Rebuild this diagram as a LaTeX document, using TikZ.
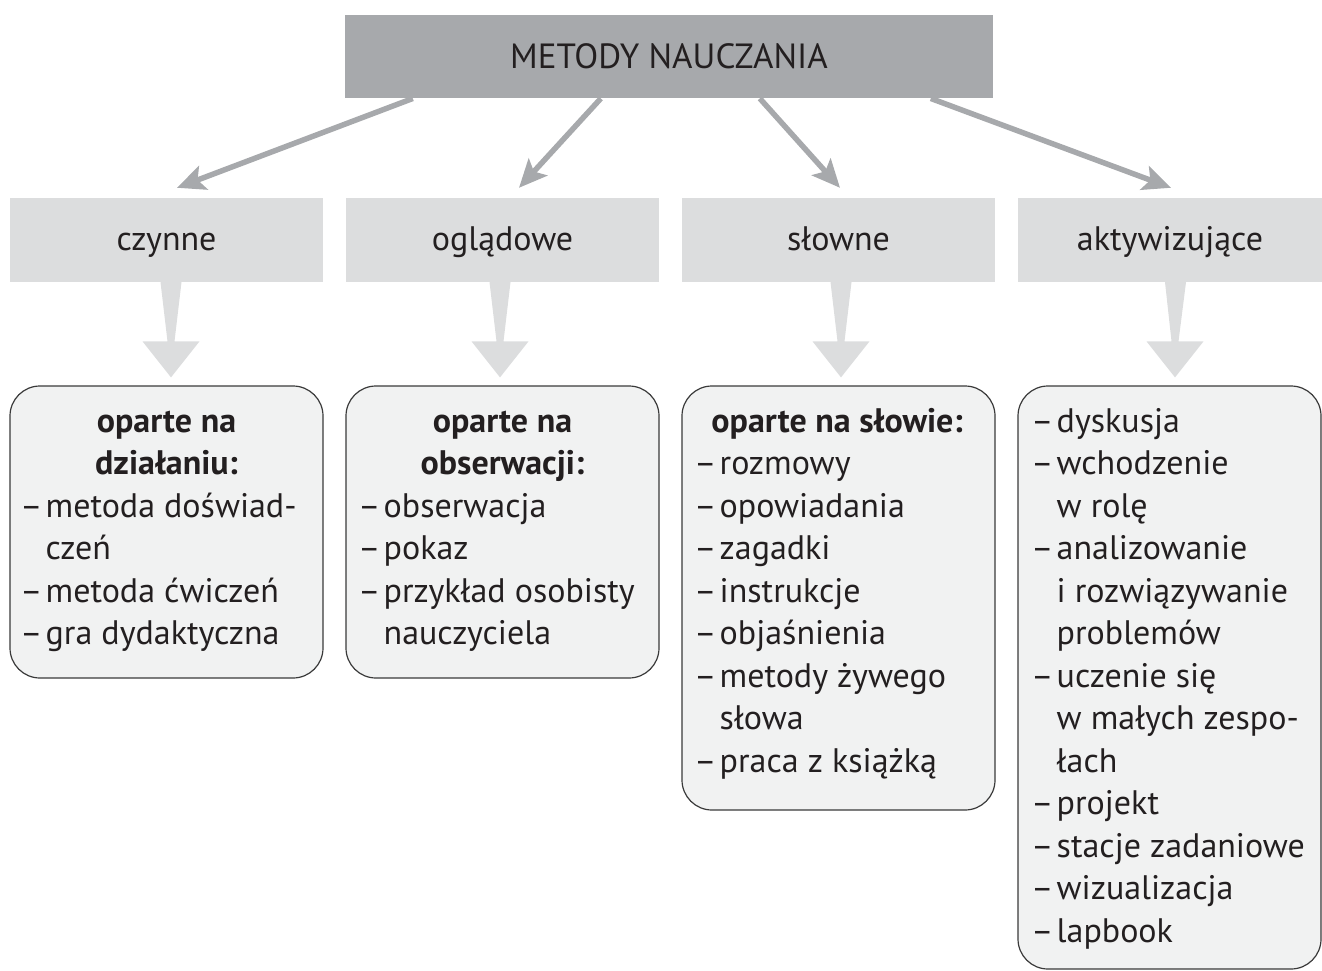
\documentclass[tikz,border=0pt]{standalone}
\usepackage{fontspec}
\setmainfont{PT Sans}
\usetikzlibrary{arrows.meta}
\definecolor{topgray}{HTML}{A7A9AC}
\definecolor{catgray}{HTML}{DCDDDE}
\definecolor{boxfill}{HTML}{F1F2F2}
\definecolor{txt}{HTML}{231F20}
\definecolor{edge}{HTML}{3A3A3A}
\newcommand\dsh{\makebox[25.5pt][l]{–}}
\newcommand\blockarrow[3]{%
  \fill[catgray] ([xshift=#3-10.5pt]#1.south) -- ([xshift=#3+10.5pt]#1.south)
    -- ([xshift=#3+3.5pt,yshift=44pt]#2.north) -- ([xshift=#3+28.5pt,yshift=44pt]#2.north)
    -- ([xshift=#3,yshift=8pt]#2.north) -- ([xshift=#3-28.5pt,yshift=44pt]#2.north)
    -- ([xshift=#3-3.5pt,yshift=44pt]#2.north) -- cycle;}
\begin{document}
\begin{tikzpicture}[x=1pt,y=-1pt,
  every node/.style={text=txt,font=\fontsize{34}{42.5}\selectfont},
  topbox/.style={fill=topgray,minimum width=648pt,minimum height=83.5pt,inner sep=0pt,text height=28pt,text depth=4pt,font=\fontsize{35}{42.5}\selectfont},
  catbox/.style={fill=catgray,minimum width=313pt,minimum height=84pt,inner sep=0pt,text height=26pt,text depth=6pt},
  listbox/.style={fill=boxfill,draw=edge,line width=1.2pt,rounded corners=30pt,inner sep=0pt},
  head/.style={anchor=base,inner sep=0pt,font=\fontsize{34}{42.5}\selectfont\bfseries},
  li/.style={anchor=base west,inner sep=0pt},
  thin/.style={draw=topgray,line width=5.5pt,-{Stealth[length=28pt,width=25pt,inset=6pt]}}
]
\useasboundingbox (0,0) rectangle (1322,971);
% top box
\node[topbox] (top) at (669,56.5) {METODY NAUCZANIA};
% categories
\node[catbox] (c1) at (166.5,240) {czynne};
\node[catbox] (c2) at (502.5,240) {oglądowe};
\node[catbox] (c3) at (838.5,240) {słowne};
\node[catbox,minimum width=304pt] (c4) at (1170,240) {aktywizujące};
% list boxes
\node[listbox,minimum width=313pt,minimum height=292pt] (b1) at (166.5,532) {};
\node[listbox,minimum width=313pt,minimum height=292pt] (b2) at (502.5,532) {};
\node[listbox,minimum width=313pt,minimum height=424pt] (b3) at (838.5,598) {};
\node[listbox,minimum width=303pt,minimum height=583pt] (b4) at (1169.5,677.5) {};
% thin arrows
\draw[thin] ([xshift=68pt]top.south west) -- ([xshift=10.5pt,yshift=10pt]c1.north);
\draw[thin] ([xshift=256pt]top.south west) -- ([xshift=16.5pt,yshift=10pt]c2.north);
\draw[thin] ([xshift=415pt]top.south west) -- ([xshift=1.5pt,yshift=10pt]c3.north);
\draw[thin] ([xshift=586pt]top.south west) -- ([xshift=1pt,yshift=10pt]c4.north);
% block arrows
\blockarrow{c1}{b1}{4.5pt}
\blockarrow{c2}{b2}{-2.5pt}
\blockarrow{c3}{b3}{2.5pt}
\blockarrow{c4}{b4}{5.5pt}
% box 1
\node[head] (b1h1) at (166.5,432) {oparte na};
\node[head] (b1h2) at (166.5,474.5) {działaniu:};
\node[li] (b1l1) at (20,517) {\dsh metoda doświad-};
\node[li] (b1l2) at (45.5,559.5) {czeń};
\node[li] (b1l3) at (20,602) {\dsh metoda ćwiczeń};
\node[li] (b1l4) at (20,644.5) {\dsh gra dydaktyczna};
% box 2
\node[head] (b2h1) at (502.5,432) {oparte na};
\node[head] (b2h2) at (502.5,474.5) {obserwacji:};
\node[li] (b2l1) at (358,517) {\dsh obserwacja};
\node[li] (b2l2) at (358,559.5) {\dsh pokaz};
\node[li] (b2l3) at (358,602) {\dsh przykład osobisty};
\node[li] (b2l4) at (383.5,644.5) {nauczyciela};
% box 3
\node[head] (b3h1) at (837,432) {oparte na słowie:};
\node[li] (b3l1) at (694,474.5) {\dsh rozmowy};
\node[li] (b3l2) at (694,517) {\dsh opowiadania};
\node[li] (b3l3) at (694,559.5) {\dsh zagadki};
\node[li] (b3l4) at (694,602) {\dsh instrukcje};
\node[li] (b3l5) at (694,644.5) {\dsh objaśnienia};
\node[li] (b3l6) at (694,687) {\dsh metody żywego};
\node[li] (b3l7) at (719.5,729.5) {słowa};
\node[li] (b3l8) at (694,772) {\dsh praca z książką};
% box 4
\node[li] (b4l1) at (1031,432) {\dsh dyskusja};
\node[li] (b4l2) at (1031,474.5) {\dsh wchodzenie};
\node[li] (b4l3) at (1056.5,517) {w rolę};
\node[li] (b4l4) at (1031,559.5) {\dsh analizowanie};
\node[li] (b4l5) at (1056.5,602) {i rozwiązywanie};
\node[li] (b4l6) at (1056.5,644.5) {problemów};
\node[li] (b4l7) at (1031,687) {\dsh uczenie się};
\node[li] (b4l8) at (1056.5,729.5) {w małych zespo-};
\node[li] (b4l9) at (1056.5,772) {łach};
\node[li] (b4l10) at (1031,814.5) {\dsh projekt};
\node[li] (b4l11) at (1031,857) {\dsh stacje zadaniowe};
\node[li] (b4l12) at (1031,899.5) {\dsh wizualizacja};
\node[li] (b4l13) at (1031,942) {\dsh lapbook};
\end{tikzpicture}
\end{document}
